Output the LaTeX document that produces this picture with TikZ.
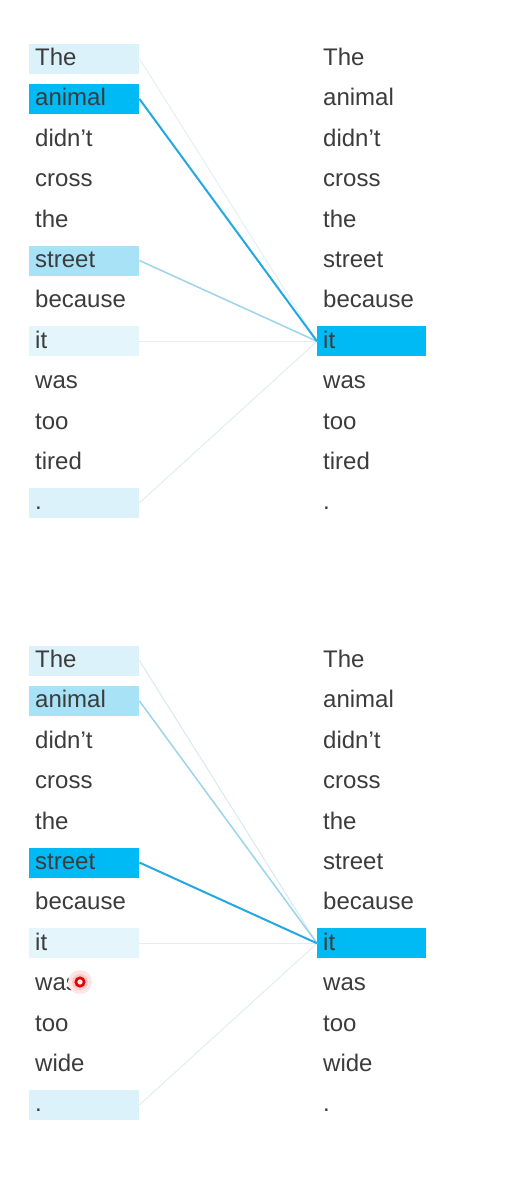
\documentclass[tikz,border=0pt]{standalone}
\usepackage{fontspec}
\setmainfont{Liberation Sans}
\definecolor{txt}{RGB}{60,60,60}
\definecolor{cStrong}{RGB}{0,186,245}
\definecolor{cLight}{RGB}{168,226,246}
\definecolor{cPale}{RGB}{220,242,250}
\definecolor{cPaler}{RGB}{228,245,251}
\definecolor{lStrong}{RGB}{35,168,226}
\definecolor{lMid}{RGB}{155,212,236}
\definecolor{lFaint}{RGB}{214,234,244}
\definecolor{lFainter}{RGB}{228,240,246}
\definecolor{lGray}{RGB}{228,237,239}
\begin{document}
\begin{tikzpicture}[x=1pt,y=-1pt,
  word/.style={anchor=west, text=txt, font=\fontsize{24}{28}\selectfont,
    text height=19pt, text depth=5pt, inner ysep=3pt, inner xsep=6pt, align=left},
  lbox/.style={word, text width=98pt},
  rbox/.style={word, text width=97pt},
  fnone/.style={},
  fs/.style={fill=cStrong},
  fl/.style={fill=cLight},
  fp/.style={fill=cPale},
  fq/.style={fill=cPaler},
  strong/.style={draw=lStrong, line width=2pt},
  mid/.style={draw=lMid, line width=1.5pt},
  faint/.style={draw=lFaint, line width=1pt},
  fainter/.style={draw=lFainter, line width=1pt},
  grayl/.style={draw=lGray, line width=1pt}]
\fill[white] (0,0) rectangle (514,1186);
\useasboundingbox (0,0) rectangle (514,1186);
% top block
\foreach \w/\f [count=\i from 0] in {The/fp,animal/fs,didn't/fnone,cross/fnone,the/fnone,street/fl,because/fnone,it/fq,was/fnone,too/fnone,tired/fnone,./fp}{
  \node[lbox,\f] (tL\i) at (29,{58.5+40.4*\i}) {\w};
}
\foreach \w/\f [count=\i from 0] in {The/fnone,animal/fnone,didn't/fnone,cross/fnone,the/fnone,street/fnone,because/fnone,it/fs,was/fnone,too/fnone,tired/fnone,./fnone}{
  \node[rbox,\f] (tR\i) at (317,{58.5+40.4*\i}) {\w};
}
% bottom block
\foreach \w/\f [count=\i from 0] in {The/fp,animal/fl,didn't/fnone,cross/fnone,the/fnone,street/fs,because/fnone,it/fq,was/fnone,too/fnone,wide/fnone,./fp}{
  \node[lbox,\f] (bL\i) at (29,{660.5+40.4*\i}) {\w};
}
\foreach \w/\f [count=\i from 0] in {The/fnone,animal/fnone,didn't/fnone,cross/fnone,the/fnone,street/fnone,because/fnone,it/fs,was/fnone,too/fnone,wide/fnone,./fnone}{
  \node[rbox,\f] (bR\i) at (317,{660.5+40.4*\i}) {\w};
}
% top connectors
\draw[fainter] (tL0.east) -- (tR7.west);
\draw[grayl] (tL7.east) -- (tR7.west);
\draw[grayl] (tL11.east) -- (tR7.west);
\draw[mid] (tL5.east) -- (tR7.west);
\draw[strong] (tL1.east) -- (tR7.west);
% bottom connectors
\draw[faint] (bL0.east) -- (bR7.west);
\draw[grayl] (bL7.east) -- (bR7.west);
\draw[grayl] (bL11.east) -- (bR7.west);
\draw[mid] (bL1.east) -- (bR7.west);
\draw[strong] (bL5.east) -- (bR7.west);
% cursor mark
\fill[red!10] (80,982) circle (12pt);
\fill[red!22] (80,982) circle (8pt);
\draw[red!90!black, line width=2.6pt, fill=red!8] (80,982) circle (4.2pt);
\end{tikzpicture}
\end{document}
